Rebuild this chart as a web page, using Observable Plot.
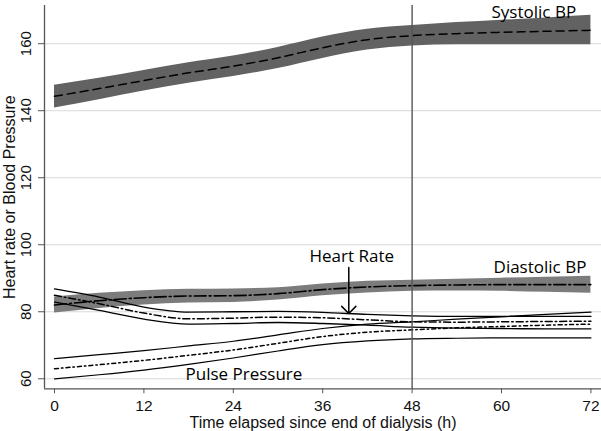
<!DOCTYPE html>
<html><head><meta charset="utf-8">
<script src="https://cdn.jsdelivr.net/npm/d3@7"></script>
<script src="https://cdn.jsdelivr.net/npm/@observablehq/plot@0.6"></script>
<style>body{margin:0;background:#fff}</style>
</head><body><div id="chart"></div>
<script>
// Hours since end of dialysis
const hours = [0, 6, 12, 18, 24, 30, 36, 42, 48, 54, 60, 66, 72];

// Systolic BP (mean and confidence band)
const sbpMean = [144.3, 146.6, 149.0, 151.3, 153.3, 155.8, 158.8, 161.2, 162.4, 163.0, 163.4, 163.7, 164.0];
const sbpHigh = [147.6, 149.7, 152.0, 154.3, 156.3, 158.9, 162.0, 164.3, 165.4, 166.3, 167.0, 167.7, 168.5];
const sbpLow  = [140.8, 143.3, 145.9, 148.2, 150.2, 152.6, 155.6, 158.1, 159.3, 159.7, 159.7, 159.7, 159.7];

// Diastolic BP
const dbpMean = [82.0, 83.3, 84.2, 84.7, 84.8, 85.4, 86.6, 87.4, 87.8, 88.0, 88.1, 88.1, 88.1];
const dbpHigh = [84.4, 85.5, 86.3, 86.7, 86.8, 87.2, 88.3, 89.1, 89.4, 89.7, 90.0, 90.3, 90.6];
const dbpLow  = [79.6, 81.0, 82.0, 82.6, 82.8, 83.5, 84.8, 85.6, 86.1, 86.2, 86.1, 85.8, 85.5];

// Heart rate
const hrMean = [84.9, 82.4, 79.6, 77.9, 78.1, 78.4, 78.2, 77.6, 77.0, 76.9, 77.0, 77.1, 77.2];
const hrHigh = [86.8, 84.4, 81.4, 79.9, 80.0, 80.1, 79.8, 79.2, 78.8, 78.6, 78.6, 78.6, 78.6];
const hrLow  = [82.9, 80.4, 77.8, 76.3, 76.5, 76.8, 76.5, 76.0, 75.4, 75.1, 75.0, 74.9, 74.9];

// Pulse pressure
const ppMean = [63.0, 64.2, 65.5, 67.0, 68.6, 70.6, 72.6, 73.9, 74.6, 75.2, 75.6, 76.0, 76.3];
const ppHigh = [66.0, 67.2, 68.4, 69.8, 71.2, 73.1, 75.0, 76.3, 77.0, 77.8, 78.5, 79.2, 79.9];
const ppLow  = [60.0, 61.2, 62.6, 64.3, 66.2, 68.3, 70.2, 71.3, 71.9, 72.1, 72.2, 72.2, 72.2];

const xTicks = [0, 12, 24, 36, 48, 60, 72];
const yTicks = [60, 80, 100, 120, 140, 160];
const refHour = [48];

const seriesNames = ["Systolic BP", "Diastolic BP", "Heart Rate", "Pulse Pressure"];
const labelHour  = [58.66, 58.93, 34.23, 17.58];
const labelValue = [167.7, 91.52, 94.8, 59.49];
const arrowHour = [39.5];
const arrowFrom = [93.2];
const arrowTo = [79.5];

const xTitle = "Time elapsed since end of dialysis (h)";
const yTitle = "Heart rate or Blood Pressure";

const rows = hours.map((t, i) => ({
  t,
  sM: sbpMean[i], sH: sbpHigh[i], sL: sbpLow[i],
  dM: dbpMean[i], dH: dbpHigh[i], dL: dbpLow[i],
  hM: hrMean[i], hH: hrHigh[i], hL: hrLow[i],
  pM: ppMean[i], pH: ppHigh[i], pL: ppLow[i]
}));
const labels = seriesNames.map((name, i) => ({name, t: labelHour[i], v: labelValue[i]}));
const arrows = arrowHour.map((t, i) => ({t, v1: arrowFrom[i], v2: arrowTo[i]}));

const xDomain = [-1.342, 73.42];
const yDomain = [57.01, 171.4];
const curve = "monotone-x";
const labelFont = "Open Sans";

const chart = Plot.plot({
  width: 601,
  height: 431,
  marginLeft: 44,
  marginRight: 0,
  marginTop: 5,
  marginBottom: 42.7,
  style: {fontFamily: "Liberation Sans", fontSize: "15px", color: "#111", background: "#fff"},
  x: {domain: xDomain, label: null},
  y: {domain: yDomain, label: null},
  marks: [
    Plot.gridY(yTicks, {stroke: "#d8d8d8", strokeOpacity: 1, strokeWidth: 1}),
    Plot.areaY(rows, {x: "t", y1: "sL", y2: "sH", fill: "#626262", curve}),
    Plot.areaY(rows, {x: "t", y1: "dL", y2: "dH", fill: "#7c7c7c", curve}),
    Plot.line(rows, {x: "t", y: "sM", stroke: "#000", strokeWidth: 1.5, strokeDasharray: "8,5", curve}),
    Plot.line(rows, {x: "t", y: "dM", stroke: "#000", strokeWidth: 1.6, strokeDasharray: "12,3,2,3", curve}),
    Plot.line(rows, {x: "t", y: "hH", stroke: "#000", strokeWidth: 1.3, curve}),
    Plot.line(rows, {x: "t", y: "hL", stroke: "#000", strokeWidth: 1.3, curve}),
    Plot.line(rows, {x: "t", y: "hM", stroke: "#000", strokeWidth: 1.5, strokeDasharray: "7,3,1.5,3", curve}),
    Plot.line(rows, {x: "t", y: "pH", stroke: "#000", strokeWidth: 1.2, curve}),
    Plot.line(rows, {x: "t", y: "pL", stroke: "#000", strokeWidth: 1.2, curve}),
    Plot.line(rows, {x: "t", y: "pM", stroke: "#000", strokeWidth: 1.5, strokeDasharray: "4,3,1.5,3", curve}),
    Plot.ruleX(refHour, {stroke: "#555", strokeWidth: 1.4}),
    Plot.ruleX([xDomain[0]], {stroke: "#555", strokeWidth: 1.3}),
    Plot.ruleY([yDomain[0]], {stroke: "#555", strokeWidth: 1.3}),
    Plot.axisY({ticks: yTicks, tickSize: 6, tickFormat: () => "", label: null, stroke: "#555"}),
    Plot.text(yTicks, {x: xDomain[0], y: d => d, text: d => String(d), rotate: -90, dx: -18, textAnchor: "middle", fontSize: 15, fill: "#111"}),
    Plot.axisX({ticks: xTicks, tickSize: 5, tickPadding: 6, label: null, fontSize: 15.5, stroke: "#555"}),
    Plot.text([xTitle], {frameAnchor: "bottom", textAnchor: "middle", lineAnchor: "bottom", dy: 39.5, fontSize: 16, fill: "#111"}),
    Plot.text([yTitle], {frameAnchor: "left", textAnchor: "middle", rotate: -90, dx: -35, fontSize: 16, fill: "#111"}),
    Plot.text(labels, {x: "t", y: "v", text: "name", textAnchor: "start", lineAnchor: "bottom", fontFamily: labelFont, fontSize: 17, fill: "#000"}),
    Plot.arrow(arrows, {x: "t", y1: "v1", y2: "v2", stroke: "#000", strokeWidth: 1.5, headAngle: 90, headLength: 10})
  ]
});
document.getElementById("chart").append(chart);
</script>
</body></html>
